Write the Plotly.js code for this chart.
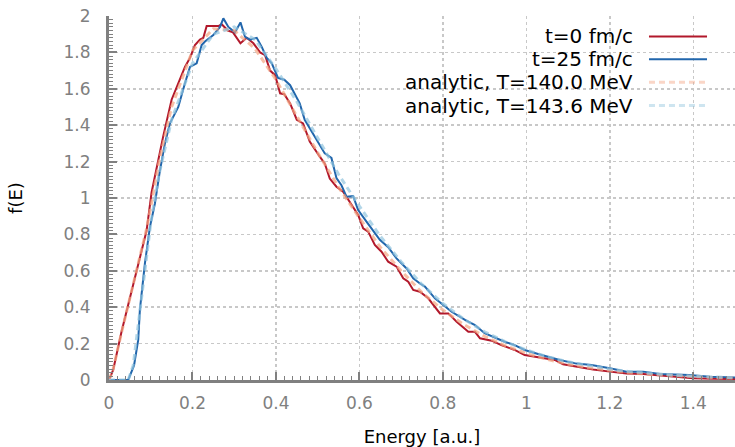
<!DOCTYPE html>
<html>
<head>
<meta charset="utf-8">
<script src="https://cdn.plot.ly/plotly-3.0.1.min.js"></script>
<style>html,body{margin:0;padding:0;background:#fff;}#chart{width:735px;height:447px;}</style>
</head>
<body>
<div id="chart"></div>
<script>
// ---- data ----
const seriesNames = ["t=0 fm/c", "t=25 fm/c", "analytic, T=140.0 MeV", "analytic, T=143.6 MeV"];

const energyT0 = [0,0.01,0.03,0.05,0.07,0.09,0.102,0.118,0.13,0.15,0.166,0.182,0.194,0.206,0.218,0.226,0.234,0.25,0.262,0.27,0.285,0.297,0.315,0.33,0.346,0.362,0.374,0.386,0.398,0.41,0.42,0.434,0.45,0.465,0.481,0.505,0.517,0.529,0.545,0.561,0.577,0.597,0.609,0.621,0.637,0.653,0.669,0.689,0.705,0.717,0.729,0.745,0.765,0.793,0.813,0.833,0.861,0.877,0.889,0.917,0.94,0.972,0.996,1.036,1.068,1.088,1.12,1.16,1.2,1.24,1.28,1.32,1.36,1.4,1.45,1.5];
const fT0 = [0,0.055,0.265,0.45,0.63,0.82,1.03,1.21,1.34,1.54,1.63,1.72,1.77,1.84,1.87,1.88,1.945,1.945,1.945,1.955,1.92,1.91,1.85,1.88,1.85,1.8,1.785,1.7,1.675,1.575,1.57,1.52,1.43,1.41,1.31,1.227,1.19,1.107,1.062,1.035,0.98,0.907,0.833,0.815,0.742,0.705,0.65,0.623,0.559,0.54,0.495,0.485,0.449,0.366,0.366,0.32,0.265,0.265,0.229,0.216,0.192,0.165,0.137,0.124,0.11,0.086,0.073,0.058,0.046,0.036,0.033,0.024,0.018,0.009,0.007,0.005];

const energyT25 = [0,0.046,0.06,0.07,0.074,0.086,0.098,0.11,0.122,0.134,0.146,0.158,0.166,0.182,0.194,0.21,0.222,0.23,0.25,0.266,0.274,0.286,0.302,0.315,0.326,0.338,0.354,0.366,0.378,0.39,0.405,0.42,0.434,0.457,0.469,0.481,0.497,0.517,0.533,0.545,0.557,0.569,0.585,0.597,0.617,0.637,0.649,0.669,0.689,0.713,0.729,0.745,0.757,0.781,0.805,0.821,0.853,0.877,0.9,0.929,0.948,0.972,0.996,1.028,1.052,1.08,1.12,1.156,1.2,1.24,1.28,1.32,1.39,1.44,1.5];
const fT25 = [0,0,0.08,0.22,0.385,0.64,0.84,0.97,1.15,1.3,1.41,1.465,1.5,1.63,1.72,1.74,1.84,1.86,1.895,1.94,1.987,1.94,1.91,1.965,1.885,1.87,1.88,1.83,1.77,1.74,1.66,1.65,1.62,1.52,1.43,1.383,1.32,1.245,1.22,1.11,1.07,1.007,1.01,0.934,0.87,0.806,0.77,0.73,0.668,0.613,0.559,0.53,0.513,0.449,0.403,0.375,0.33,0.302,0.257,0.229,0.21,0.192,0.165,0.143,0.128,0.11,0.09,0.082,0.064,0.046,0.046,0.033,0.027,0.018,0.014];

const energyA140 = [0,0.01,0.03,0.05,0.07,0.09,0.1,0.12,0.15,0.2,0.25,0.3,0.35,0.4,0.45,0.5,0.55,0.6,0.65,0.7,0.75,0.8,0.85,0.9,0.95,1.0,1.05,1.1,1.15,1.2,1.25,1.3,1.35,1.4,1.45,1.5];
const fA140 = [0,0.06,0.26,0.45,0.64,0.83,0.95,1.2,1.5,1.81,1.93,1.92,1.82,1.65,1.45,1.25,1.06,0.89,0.73,0.6,0.48,0.385,0.305,0.24,0.188,0.146,0.113,0.087,0.067,0.051,0.039,0.03,0.023,0.017,0.013,0.01];

const energyA143 = [0,0.046,0.058,0.074,0.086,0.1,0.12,0.15,0.2,0.25,0.3,0.35,0.4,0.45,0.5,0.55,0.6,0.65,0.7,0.75,0.8,0.85,0.9,0.95,1.0,1.05,1.1,1.15,1.2,1.25,1.3,1.35,1.4,1.45,1.5];
const fA143 = [0,0,0.08,0.385,0.6,0.86,1.13,1.43,1.74,1.9,1.94,1.87,1.71,1.53,1.33,1.13,0.955,0.79,0.65,0.525,0.42,0.335,0.265,0.21,0.165,0.128,0.1,0.078,0.06,0.046,0.036,0.027,0.021,0.016,0.012];

const xTickVals = [0,0.2,0.4,0.6,0.8,1,1.2,1.4];
const xTickText = ["0","0.2","0.4","0.6","0.8","1","1.2","1.4"];
const yTickVals = [0,0.2,0.4,0.6,0.8,1,1.2,1.4,1.6,1.8,2];
const yTickText = ["0","0.2","0.4","0.6","0.8","1","1.2","1.4","1.6","1.8","2"];

// ---- styling ----
const colors = ["#b2182b", "#2166ac", "rgba(244,165,130,0.7)", "rgba(146,197,222,0.7)"];
const lineStyles = [
  {color: colors[0], width: 2},
  {color: colors[1], width: 2},
  {color: colors[2], width: 3, dash: "6px,4px"},
  {color: colors[3], width: 3, dash: "6px,4px"}
];
const xs = [energyT0, energyT25, energyA140, energyA143];
const ys = [fT0, fT25, fA140, fA143];

const traces = seriesNames.map((n, i) => ({
  x: xs[i], y: ys[i], type: "scatter", mode: "lines", name: n,
  line: lineStyles[i], showlegend: false, hoverinfo: "skip"
}));

const font = "DejaVu Sans, sans-serif";
const gray = "#808080";

// custom legend (text on the left, line sample on the right)
const legendRowsY = [0.944, 0.881, 0.818, 0.754];
const annotations = seriesNames.map((n, i) => ({
  xref: "paper", yref: "paper", x: 0.841, y: legendRowsY[i],
  xanchor: "right", yanchor: "middle", text: n, showarrow: false,
  font: {family: font, size: 20, color: "#000"}
}));
const legendLine = [
  {color: colors[0], width: 2},
  {color: colors[1], width: 2},
  {color: "rgba(244,165,130,0.45)", width: 3, dash: "6px,4px"},
  {color: "rgba(146,197,222,0.45)", width: 3, dash: "6px,4px"}
];
const shapes = seriesNames.map((n, i) => ({
  type: "line", xref: "paper", yref: "paper",
  x0: 0.8626, x1: 0.9553, y0: legendRowsY[i], y1: legendRowsY[i],
  line: legendLine[i]
}));

const axisCommon = {
  showline: true, linecolor: gray, linewidth: 3,
  ticks: "inside", ticklen: 8, tickwidth: 2, tickcolor: gray,
  tickfont: {family: font, size: 17, color: gray},
  showgrid: true, gridcolor: "#c8c8c8", griddash: "dot", gridwidth: 1.5,
  zeroline: false, tickmode: "array", fixedrange: true
};

const layout = {
  width: 735, height: 447,
  margin: {l: 109, r: 0, t: 16, b: 67, pad: 0},
  paper_bgcolor: "#fff", plot_bgcolor: "#fff",
  font: {family: font, color: "#000"},
  xaxis: Object.assign({}, axisCommon, {
    range: [0, 1.5], tickvals: xTickVals, ticktext: xTickText,
    minor: {ticks: "inside", ticklen: 4, tickwidth: 1, tickcolor: gray, dtick: 0.02, tick0: 0, showgrid: false},
    ticklabelstandoff: 6,
    title: {text: "Energy [a.u.]", font: {family: font, size: 18, color: "#000"}, standoff: 18}
  }),
  yaxis: Object.assign({}, axisCommon, {
    range: [0, 2], tickvals: yTickVals, ticktext: yTickText,
    minor: {ticks: "inside", ticklen: 4, tickwidth: 1, tickcolor: gray, dtick: 0.02, tick0: 0, showgrid: false},
    ticklabelstandoff: 12,
    title: {text: "f(E)", font: {family: font, size: 18, color: "#000"}, standoff: 37}
  }),
  annotations: annotations,
  shapes: shapes,
  showlegend: false
};

Plotly.newPlot("chart", traces, layout, {staticPlot: true, displayModeBar: false});
</script>
</body>
</html>
